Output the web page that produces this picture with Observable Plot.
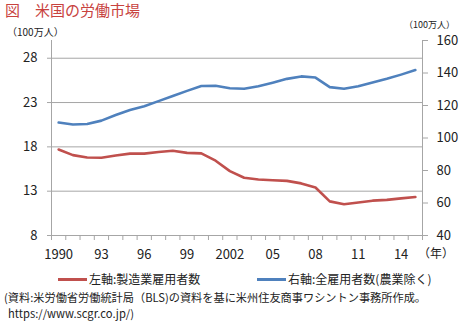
<!DOCTYPE html>
<html>
<head>
<meta charset="utf-8">
<script src="https://cdn.jsdelivr.net/npm/d3@7"></script>
<script src="https://cdn.jsdelivr.net/npm/@observablehq/plot@0.6"></script>
<style>
  html, body { margin: 0; padding: 0; background: #fff; }
  #wrap { position: relative; width: 475px; height: 327px; overflow: hidden;
          font-family: "Noto Sans CJK JP", "Noto Sans", sans-serif; color: #222; }
  #chart { position: absolute; left: 0; top: 0; }
  .abs { position: absolute; white-space: nowrap; line-height: 1; }
  .sw { display: inline-block; width: 29px; height: 3px; vertical-align: middle; margin-right: 2px; position: relative; top: -1px; }
</style>
</head>
<body>
<div id="wrap">
  <div id="chart"></div>
  <div class="abs" style="left:5px; top:2px; font-size:15px; line-height:16px; color:#c8423e;">図　米国の労働市場</div>
  <div class="abs" style="left:7px; top:27px; font-size:10px;">（100万人）</div>
  <div class="abs" style="left:404px; top:20px; font-size:9px;">（100万人）</div>
  <div class="abs" style="left:418px; top:247px; font-size:12px;">（年）</div>
  <div class="abs" style="left:58px; top:273px; font-size:12px;"><span class="sw" style="background:#c0504d"></span>左軸:製造業雇用者数</div>
  <div class="abs" style="left:257px; top:273px; font-size:12px;"><span class="sw" style="background:#4f81bd"></span>右軸:全雇用者数(農業除く)</div>
  <div class="abs" style="left:4px; top:292px; font-size:11.2px;">(資料:米労働省労働統計局（BLS)の資料を基に米州住友商事ワシントン事務所作成。</div>
  <div class="abs" style="left:8px; top:308px; font-size:11.2px;">https://www.scgr.co.jp/)</div>
</div>
<script>
const years = [1990,1991,1992,1993,1994,1995,1996,1997,1998,1999,2000,2001,2002,2003,2004,2005,2006,2007,2008,2009,2010,2011,2012,2013,2014,2015];
// 製造業雇用者数 (left axis, 100万人)
const manufacturing = [17.70,17.07,16.80,16.77,17.02,17.24,17.24,17.42,17.56,17.32,17.26,16.44,15.26,14.51,14.32,14.23,14.16,13.88,13.41,11.85,11.53,11.73,11.93,12.02,12.19,12.34];
// 全雇用者数(農業除く) (right axis, 100万人)
const totalNonfarm = [109.5,108.3,108.6,110.7,114.1,117.2,119.6,122.7,125.9,129.0,132.0,132.1,130.6,130.3,131.8,134.0,136.4,137.9,137.2,131.3,130.3,131.8,134.1,136.4,139.0,141.8];

const leftTicks = [8,13,18,23,28];
const rightTicks = [40,60,80,100,120,140,160];
const xLabelYears = [1990,1993,1996,1999,2002,2005,2008,2011,2014];
const xLabels = ["1990","93","96","99","2002","05","08","11","14"];

const leftDomain = [8, 30];
const rightDomain = [40, 160];
const toLeft = v => leftDomain[0] + (v - rightDomain[0]) * (leftDomain[1]-leftDomain[0]) / (rightDomain[1]-rightDomain[0]);
const toRight = v => rightDomain[0] + (v - leftDomain[0]) * (rightDomain[1]-rightDomain[0]) / (leftDomain[1]-leftDomain[0]);

const redData = years.map((y,i) => ({year: y, value: manufacturing[i]}));
const blueData = years.map((y,i) => ({year: y, value: toLeft(totalNonfarm[i])}));
const boundaries = [...years.map(y => y - 0.5), years[years.length-1] + 0.5];

const grid = "#a6a6a6";
const chart = Plot.plot({
  width: 475,
  height: 265,
  marginLeft: 51,
  marginRight: 53,
  marginTop: 40,
  marginBottom: 30,
  x: {type: "linear", domain: [years[0]-0.5, years[years.length-1]+0.5]},
  y: {domain: leftDomain},
  style: {fontFamily: "'Noto Sans CJK JP', 'Noto Sans', sans-serif", fontSize: "13px", color: "#222", background: "transparent"},
  marks: [
    Plot.ruleY(leftTicks.slice(1), {stroke: grid, strokeWidth: 1}),
    Plot.ruleY([leftDomain[0]], {stroke: grid, strokeWidth: 1}),
    Plot.ruleX([years[0]-0.5], {stroke: grid, strokeWidth: 1}),
    Plot.ruleX([years[years.length-1]+0.5], {stroke: grid, strokeWidth: 1}),
    Plot.axisY({anchor: "left", ticks: leftTicks, tickSize: 4, tickPadding: 10, label: null, stroke: grid, fill: "#222"}),
    Plot.axisY({anchor: "right", ticks: rightTicks.map(toLeft), tickFormat: d => String(Math.round(toRight(d))), tickSize: 5, tickPadding: 9, label: null, stroke: grid, fill: "#222"}),
    Plot.axisX({anchor: "bottom", ticks: boundaries, tickFormat: () => "", tickSize: 5, label: null, stroke: grid}),
    Plot.axisX({anchor: "bottom", ticks: xLabelYears, tickFormat: d => xLabels[xLabelYears.indexOf(d)], tickSize: 0, tickPadding: 14, label: null, fill: "#222"}),
    Plot.line(blueData, {x: "year", y: "value", stroke: "#4f81bd", strokeWidth: 2.6, curve: "linear"}),
    Plot.line(redData, {x: "year", y: "value", stroke: "#c0504d", strokeWidth: 2.6, curve: "linear"})
  ]
});
document.getElementById("chart").appendChild(chart);
</script>
</body>
</html>
